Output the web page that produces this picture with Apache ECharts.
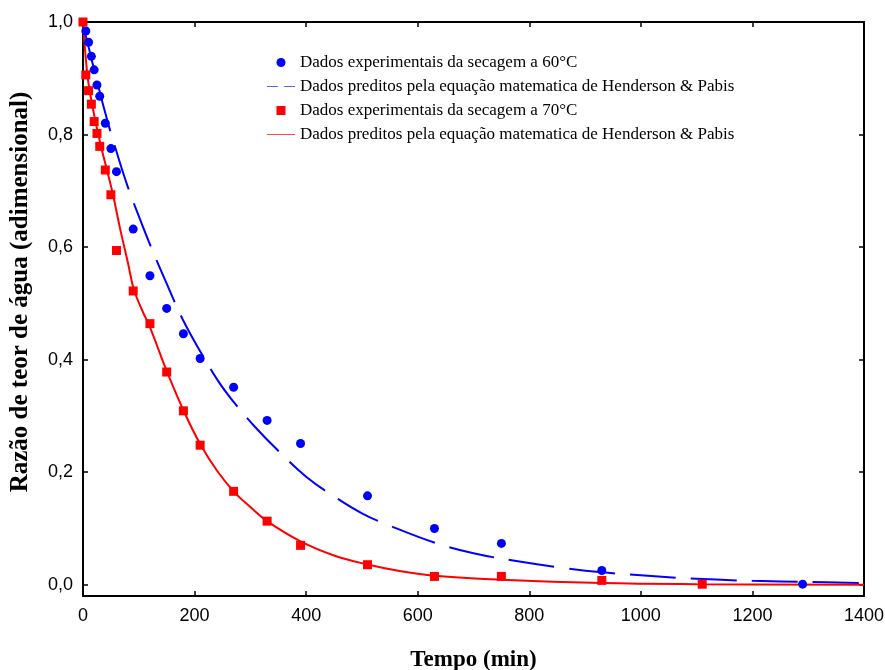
<!DOCTYPE html>
<html>
<head>
<meta charset="utf-8">
<script src="https://cdn.jsdelivr.net/npm/echarts@6/dist/echarts.min.js"></script>
<style>html,body{margin:0;padding:0;background:#fff;}#c{width:885px;height:670px;}</style>
</head>
<body>
<div id="c"></div>
<script>
// Experimental data, 60 °C
const blueTime = [5, 10, 15, 20, 25, 30, 40, 50, 60, 90, 120, 150, 180, 210, 270, 330, 390, 510, 630, 750, 930, 1290];
const blueValue = [0.984, 0.964, 0.939, 0.915, 0.888, 0.868, 0.820, 0.775, 0.734, 0.632, 0.549, 0.491, 0.446, 0.402, 0.351, 0.292, 0.251, 0.158, 0.100, 0.0735, 0.0254, 0.001];
// Experimental data, 70 °C
const redTime = [0, 5, 10, 15, 20, 25, 30, 40, 50, 60, 90, 120, 150, 180, 210, 270, 330, 390, 510, 630, 750, 930, 1110];
const redValue = [1.0, 0.906, 0.878, 0.854, 0.823, 0.802, 0.779, 0.737, 0.693, 0.594, 0.522, 0.464, 0.378, 0.309, 0.248, 0.166, 0.113, 0.070, 0.0356, 0.0148, 0.0148, 0.0077, 0.001];
// Predicted curve (Henderson & Pabis), 60 °C
const blueFitTime = [0, 5, 20, 43, 60, 80, 100, 120, 150, 180, 210, 243, 270, 306, 350, 400, 450, 500, 550, 633, 700, 771, 853, 930, 1000, 1100, 1200, 1300, 1400];
const blueFitValue = [0.99, 0.975, 0.915, 0.827, 0.77, 0.708, 0.655, 0.605, 0.535, 0.469, 0.415, 0.361, 0.325, 0.283, 0.238, 0.192, 0.157, 0.127, 0.105, 0.074, 0.056, 0.043, 0.031, 0.022, 0.017, 0.0105, 0.007, 0.005, 0.003];
// Predicted curve (Henderson & Pabis), 70 °C
const redFitTime = [0, 5, 10, 20, 32, 43, 54, 66, 81, 91, 105, 121, 150, 180, 210, 240, 270, 300, 330, 390, 450, 510, 570, 630, 750, 930, 1100, 1400];
const redFitValue = [1.0, 0.935, 0.89, 0.835, 0.78, 0.737, 0.692, 0.635, 0.57, 0.525, 0.49, 0.455, 0.38, 0.31, 0.25, 0.203, 0.166, 0.138, 0.113, 0.077, 0.052, 0.036, 0.024, 0.016, 0.009, 0.003, 0.001, 0.0];

const xTicks = [0, 200, 400, 600, 800, 1000, 1200, 1400];
const yTicks = [0, 0.2, 0.4, 0.6, 0.8, 1.0];

const names = [
  'Dados experimentais da secagem a 60°C',
  'Dados preditos pela equação matematica de Henderson & Pabis',
  'Dados experimentais da secagem a 70°C',
  'Dados preditos pela equação matematica de Henderson & Pabis '
];
const xTitle = 'Tempo (min)';
const yTitle = 'Razão de teor de água (adimensional)';

const zip = (a, b) => a.map((v, i) => [v, b[i]]);

const chart = echarts.init(document.getElementById('c'), null, {renderer: 'canvas'});
const axisLine = {show: true, onZero: false, lineStyle: {color: '#000', width: 2}};
const tick = {show: true, inside: true, length: 5, lineStyle: {color: '#000', width: 1.5}};
const sansLabel = {fontFamily: 'Liberation Sans', fontSize: 18, color: '#000'};

chart.setOption({
  animation: false,
  backgroundColor: '#fff',
  grid: {left: 83, right: 21, top: 22, bottom: 74, containLabel: false, outerBoundsMode: 'none'},
  legend: {
    orient: 'vertical', left: 262, top: 49, itemWidth: 28, itemHeight: 9, itemGap: 7,
    textStyle: {fontFamily: 'Liberation Serif', fontSize: 17, color: '#000'},
    data: [
      {name: names[0], icon: 'circle', itemStyle: {color: '#0000ff'}},
      {name: names[1], icon: 'path://M0 0H10V1H0Z M16 0H26V1H16Z', itemStyle: {color: '#5560ff'}},
      {name: names[2], icon: 'path://M0 0H10V10H0Z', itemStyle: {color: '#ff0000'}},
      {name: names[3], icon: 'path://M0 0H28V1H0Z', itemStyle: {color: '#ff4a4a'}}
    ]
  },
  graphic: [{
    type: 'text', x: 21, y: 292, rotation: Math.PI / 2,
    style: {text: yTitle, fontFamily: 'Liberation Serif', fontWeight: 'bold', fontSize: 25, fill: '#000', align: 'center', verticalAlign: 'middle'}
  }],
  xAxis: [{
    type: 'value', min: 0, max: 1400, interval: 200, position: 'bottom',
    name: xTitle, nameLocation: 'middle', nameGap: 53,
    nameTextStyle: {fontFamily: 'Liberation Serif', fontWeight: 'bold', fontSize: 23, color: '#000'},
    axisLine: axisLine, axisTick: tick, splitLine: {show: false},
    axisLabel: Object.assign({margin: 11, formatter: v => String(v), customValues: xTicks}, sansLabel)
  }, {
    type: 'value', min: 0, max: 1400, interval: 200, position: 'top',
    axisLine: axisLine, axisTick: tick, splitLine: {show: false}, axisLabel: {show: false}
  }],
  yAxis: [{
    type: 'value', min: -0.02, max: 1.0, position: 'left',
    axisLine: axisLine, splitLine: {show: false},
    axisTick: Object.assign({customValues: yTicks}, tick),
    axisLabel: Object.assign({margin: 10, customValues: yTicks, formatter: v => v.toFixed(1).replace('.', ',')}, sansLabel)
  }, {
    type: 'value', min: -0.02, max: 1.0, position: 'right',
    axisLine: axisLine, splitLine: {show: false},
    axisTick: Object.assign({customValues: yTicks}, tick),
    axisLabel: {show: false}
  }],
  series: [
    {
      name: names[0], type: 'scatter', symbol: 'circle', symbolSize: 9,
      itemStyle: {color: '#0000ff', opacity: 1}, data: zip(blueTime, blueValue), z: 5
    },
    {
      name: names[1], type: 'line', showSymbol: false, symbol: 'none', smooth: 0.4,
      lineStyle: {color: '#0000ff', width: 2, type: [46, 15]}, itemStyle: {color: '#5560ff'},
      data: zip(blueFitTime, blueFitValue), z: 3
    },
    {
      name: names[2], type: 'scatter', symbol: 'rect', symbolSize: 9,
      itemStyle: {color: '#ff0000', opacity: 1}, data: zip(redTime, redValue), z: 5
    },
    {
      name: names[3], type: 'line', showSymbol: false, symbol: 'none', smooth: 0.4,
      lineStyle: {color: '#ff0000', width: 2}, itemStyle: {color: '#ff4a4a'},
      data: zip(redFitTime, redFitValue), z: 3
    }
  ]
});
</script>
</body>
</html>
